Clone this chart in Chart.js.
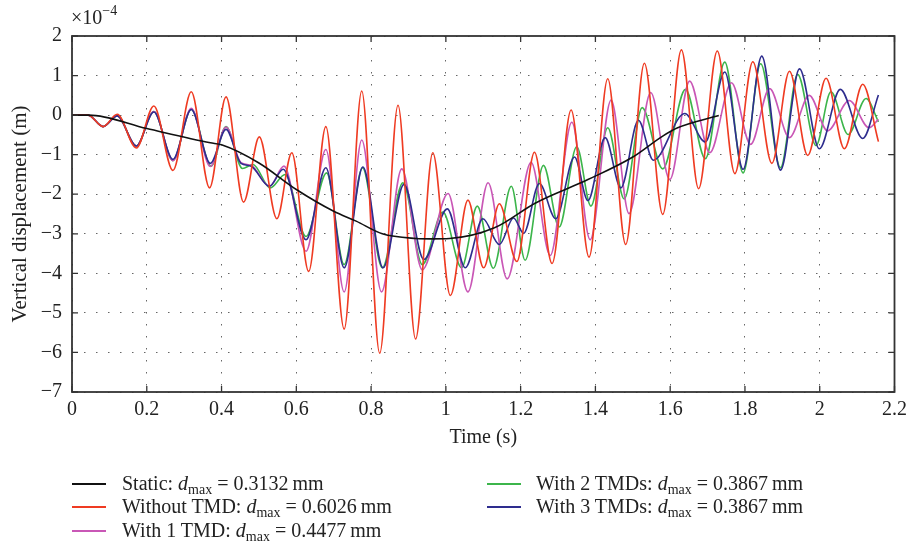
<!DOCTYPE html>
<html>
<head>
<meta charset="utf-8">
<script src="https://cdn.jsdelivr.net/npm/chart.js@4.4.1/dist/chart.umd.min.js"></script>
<style>
  html, body { margin: 0; padding: 0; background: #fff; }
  #wrap { position: relative; width: 913px; height: 552px; font-family: 'Liberation Serif', serif; color: #222; }
  canvas { position: absolute; left: 0; top: 0; }
  .lg { position: absolute; font-size: 20px; line-height: 24px; white-space: nowrap; }
  .lg sub { font-size: 14px; line-height: 0; vertical-align: -4px; }
  .sw { position: absolute; width: 34px; height: 2px; }
  #exp { position: absolute; left: 71px; top: 5px; font-size: 20px; line-height: 24px; }
  #exp sup { font-size: 14px; line-height: 0; vertical-align: 9px; }
</style>
</head>
<body>
<div id="wrap">
  <canvas id="c" width="913" height="552"></canvas>
  <div id="exp">×10<sup>−4</sup></div>
  <div id="legend"></div>
</div>
<script>
// ---- data (displacement in units of 1e-4 m, time in s) ----
const staticT = [0, 0.045, 0.2, 0.37, 0.40, 0.50, 0.60, 0.70, 0.76, 0.83, 0.92, 0.96, 1.01, 1.13, 1.24, 1.38, 1.50, 1.58, 1.62, 1.73];
const staticV = [0, 0, -0.34, -0.70, -0.75, -1.21, -1.88, -2.43, -2.68, -3.00, -3.12, -3.13, -3.12, -2.85, -2.22, -1.63, -1.06, -0.53, -0.32, -0.01];

const noTmdT = [0,0.043,0.083,0.121,0.172,0.219,0.270,0.319,0.368,0.412,0.459,0.501,0.548,0.588,0.633,0.679,0.728,0.775,0.823,0.872,0.919,0.965,1.012,1.059,1.101,1.143,1.190,1.237,1.284,1.335,1.383,1.433,1.481,1.531,1.580,1.630,1.676,1.726,1.773,1.821,1.872,1.919,1.968,2.017,2.066,2.115,2.157];
const noTmdV = [0,0,-0.29,0.02,-0.83,0.23,-1.40,0.59,-1.84,0.46,-2.20,-0.55,-2.62,-0.95,-3.95,-0.29,-5.41,0.61,-6.02,0.25,-5.66,-0.95,-4.56,-2.15,-3.86,-2.24,-3.70,-0.94,-3.75,0.13,-3.59,0.92,-3.27,1.31,-2.51,1.65,-1.86,1.62,-1.48,1.35,-1.22,1.11,-1.02,0.93,-0.85,0.78,-0.67];

const oneTmdT = [0,0.043,0.083,0.121,0.172,0.219,0.270,0.319,0.370,0.412,0.452,0.479,0.528,0.567,0.626,0.679,0.728,0.775,0.828,0.882,0.937,1.006,1.059,1.113,1.164,1.228,1.279,1.337,1.386,1.442,1.490,1.548,1.599,1.652,1.706,1.764,1.815,1.866,1.919,1.972,2.021,2.079,2.132,2.157];
const oneTmdV = [0,0,-0.29,-0.02,-0.78,0.09,-1.15,0.17,-1.30,-0.30,-1.20,-1.27,-1.80,-1.29,-3.44,-0.87,-4.47,-0.63,-4.47,-1.36,-3.91,-1.98,-4.47,-1.71,-4.14,-1.19,-3.55,-0.18,-3.15,0.38,-2.49,0.57,-1.63,0.86,-0.95,0.82,-0.74,0.67,-0.57,0.50,-0.40,0.37,-0.32,-0.11];

const twoTmdT = [0,0.043,0.083,0.121,0.172,0.219,0.270,0.319,0.372,0.412,0.456,0.484,0.530,0.570,0.626,0.681,0.728,0.777,0.830,0.885,0.937,0.992,1.042,1.084,1.127,1.175,1.212,1.261,1.303,1.350,1.388,1.433,1.477,1.525,1.580,1.641,1.694,1.746,1.795,1.842,1.895,1.941,1.990,2.030,2.076,2.124,2.157];
const twoTmdV = [0,0,-0.29,-0.02,-0.78,0.09,-1.15,0.15,-1.29,-0.29,-1.35,-1.25,-1.84,-1.50,-3.07,-1.46,-3.78,-1.33,-3.86,-1.71,-3.78,-2.45,-3.86,-2.30,-3.87,-1.80,-3.67,-1.27,-2.83,-0.80,-2.30,-0.32,-2.12,0.19,-1.36,0.65,-1.10,1.34,-1.46,1.30,-1.33,1.03,-0.77,0.59,-0.49,0.42,-0.17];

const threeTmdT = [0,0.043,0.083,0.121,0.172,0.219,0.270,0.319,0.370,0.412,0.452,0.479,0.528,0.565,0.626,0.679,0.728,0.778,0.832,0.888,0.941,1.004,1.052,1.099,1.143,1.181,1.208,1.250,1.294,1.344,1.380,1.426,1.468,1.515,1.555,1.639,1.694,1.746,1.795,1.845,1.895,1.946,1.999,2.055,2.115,2.157];
const threeTmdV = [0,0,-0.29,-0.02,-0.78,0.08,-1.12,0.14,-1.22,-0.36,-1.22,-1.29,-1.80,-1.37,-3.15,-1.33,-3.86,-1.31,-3.86,-1.75,-3.65,-2.37,-3.86,-2.62,-3.27,-2.60,-2.99,-1.73,-2.62,-1.06,-2.16,-0.57,-1.84,-0.13,-1.14,0.04,-0.68,1.09,-1.37,1.49,-1.39,1.17,-0.85,0.65,-0.59,0.51];

const seriesNames = ['Static', 'Without TMD', 'With 1 TMD', 'With 2 TMDs', 'With 3 TMDs'];
const dmaxLabels = ['0.3132', '0.6026', '0.4477', '0.3867', '0.3867'];
const xTickValues = [0, 0.2, 0.4, 0.6, 0.8, 1, 1.2, 1.4, 1.6, 1.8, 2, 2.2];
const yTickValues = [2, 1, 0, -1, -2, -3, -4, -5, -6, -7];

// ---- styling ----
const colors = ['#111111', '#ef3b22', '#c957b6', '#3cb54b', '#2e2d8e'];
const FONT = "'Liberation Serif', serif";

const pts = (t, v) => t.map((x, i) => ({ x: x, y: v[i] }));
const allT = [staticT, noTmdT, oneTmdT, twoTmdT, threeTmdT];
const allV = [staticV, noTmdV, oneTmdV, twoTmdV, threeTmdV];
const drawOrder = [0, 1, 3, 4, 2]; // lower = on top

const datasets = seriesNames.map((n, i) => ({
  label: n,
  data: pts(allT[i], allV[i]),
  borderColor: colors[i],
  backgroundColor: colors[i],
  borderWidth: 1.6,
  pointRadius: 0,
  showLine: true,
  fill: false,
  cubicInterpolationMode: 'monotone',
  order: drawOrder[i]
}));

const frame = {
  id: 'frame',
  afterDatasetsDraw(chart) {
    const { ctx, chartArea: a, scales: { x, y } } = chart;
    ctx.save();
    ctx.strokeStyle = '#333';
    ctx.lineWidth = 1.8;
    ctx.strokeRect(a.left, a.top, a.right - a.left, a.bottom - a.top);
    ctx.lineWidth = 1.3;
    ctx.beginPath();
    xTickValues.forEach(v => {
      const p = x.getPixelForValue(v);
      ctx.moveTo(p, a.bottom); ctx.lineTo(p, a.bottom - 6);
      ctx.moveTo(p, a.top); ctx.lineTo(p, a.top + 6);
    });
    yTickValues.forEach(v => {
      const p = y.getPixelForValue(v);
      ctx.moveTo(a.left, p); ctx.lineTo(a.left + 6, p);
      ctx.moveTo(a.right, p); ctx.lineTo(a.right - 6, p);
    });
    ctx.stroke();
    ctx.restore();
  }
};

new Chart(document.getElementById('c'), {
  type: 'scatter',
  data: { datasets },
  options: {
    responsive: false,
    animation: false,
    devicePixelRatio: 1,
    layout: { padding: { top: 36, right: 16, left: 0, bottom: 90 } },
    plugins: { legend: { display: false }, tooltip: { enabled: false } },
    scales: {
      x: {
        type: 'linear', min: 0, max: 2.2,
        afterBuildTicks: s => { s.ticks = xTickValues.map(v => ({ value: v })); },
        afterFit: s => { s.height = 70; },
        ticks: {
          color: '#222', font: { family: FONT, size: 20 }, padding: 6, maxRotation: 0,
          callback: v => String(+(+v).toFixed(1))
        },
        grid: { color: '#666', lineWidth: 1, drawTicks: false },
        border: { display: false, dash: [1.5, 10.5] },
        title: { display: true, text: 'Time (s)', color: '#222', font: { family: FONT, size: 20 }, padding: { top: 0, bottom: 12 } }
      },
      y: {
        type: 'linear', min: -7, max: 2,
        afterBuildTicks: s => { s.ticks = yTickValues.map(v => ({ value: v })); },
        afterFit: s => { s.width = 72; },
        ticks: {
          color: '#222', font: { family: FONT, size: 20 }, padding: 10,
          callback: v => (v < 0 ? '\u2212' + Math.abs(v) : String(v))
        },
        grid: { color: '#666', lineWidth: 1, drawTicks: false },
        border: { display: false, dash: [1.5, 10.5] },
        title: { display: true, text: 'Vertical displacement (m)', color: '#222', font: { family: FONT, size: 21 }, padding: { top: 8, bottom: 0 } }
      }
    }
  },
  plugins: [frame]
});

// ---- legend (HTML text) ----
const legendPos = [
  { sx: 72, tx: 122, y: 484 },
  { sx: 72, tx: 122, y: 507 },
  { sx: 72, tx: 122, y: 531 },
  { sx: 487, tx: 536, y: 484 },
  { sx: 487, tx: 536, y: 507 }
];
const lg = document.getElementById('legend');
seriesNames.forEach((n, i) => {
  const p = legendPos[i];
  const sw = document.createElement('div');
  sw.className = 'sw';
  sw.style.left = p.sx + 'px';
  sw.style.top = (p.y - 1) + 'px';
  sw.style.background = colors[i];
  lg.appendChild(sw);
  const t = document.createElement('div');
  t.className = 'lg';
  t.style.left = p.tx + 'px';
  t.style.top = (p.y - 13) + 'px';
  t.innerHTML = n + ': <i>d</i><sub>max</sub> = ' + dmaxLabels[i] + '\u2009mm';
  lg.appendChild(t);
});
</script>
</body>
</html>
